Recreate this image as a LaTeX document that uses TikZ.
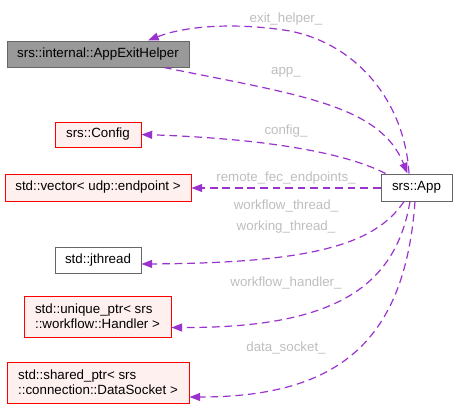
\documentclass[tikz,border=0pt]{standalone}
\usepackage{fontspec}
\setmainfont{Liberation Sans}
\usetikzlibrary{arrows.meta,calc}
\definecolor{edgec}{HTML}{9A32CD}
\definecolor{lblc}{HTML}{BEBEBE}
\definecolor{redfill}{HTML}{FFF0F0}
\definecolor{redline}{HTML}{FF0000}
\definecolor{grayfill}{HTML}{999999}
\definecolor{grayline}{HTML}{666666}
\begin{document}
\begin{tikzpicture}[x=0.75pt,y=-0.75pt,
  box/.style={draw, line width=0.75pt, inner sep=0pt, font=\fontsize{10}{11.25}\selectfont},
  redbox/.style={box, draw=redline, fill=redfill},
  plainbox/.style={box, draw=grayline, fill=white},
  greybox/.style={box, draw=grayline, fill=grayfill},
  conn/.style={draw=edgec, line width=0.9pt, dash pattern=on 5.8pt off 3.6pt, -{Triangle[length=8pt,width=6pt]}},
  lbl/.style={text=lblc, font=\fontsize{10}{11.25}\selectfont, anchor=base, inner sep=0pt}]
\useasboundingbox (0,0) rectangle (457,408);
% nodes
\node[greybox, minimum width=136.5pt, minimum height=19.5pt] (helper) at (98,54) {srs::internal::AppExitHelper};
\node[redbox, minimum width=64.5pt, minimum height=18.75pt] (config) at (98,134.5) {srs::Config};
\node[redbox, minimum width=139.5pt, minimum height=20.25pt] (vector) at (98,187.5) {std::vector< udp::endpoint >};
\node[plainbox, minimum width=64.5pt, minimum height=19.5pt] (jthread) at (98,260) {std::jthread};
\node[redbox, minimum width=110.25pt, minimum height=30.75pt, align=left] (unique) at (97.5,316.5) {std::unique\_ptr< srs\\::workflow::Handler >};
\node[redbox, minimum width=136.5pt, minimum height=30.75pt, align=left] (shared) at (98,382.5) {std::shared\_ptr< srs\\::connection::DataSocket >};
\node[plainbox, minimum width=53.25pt, minimum height=20.25pt] (app) at (416.5,187.5) {srs::App};
% connectors
\draw[conn] ($(app.north)+(-7.5,0)$) .. controls (405,105) and (360,45) .. (290,31)
   .. controls (235,22) and (185,26) .. ($(helper.north)+(50,0)$);
\draw[conn] ($(helper.south)+(66,0)$) .. controls (300,95) and (380,105) .. ($(app.north)+(-9,0)$);
\draw[conn] ($(app.north)+(-31,0)$) .. controls (340,150) and (250,138) .. (config.east);
\draw[conn] ($(app.west)+(0,0.5)$) -- ($(vector.east)+(0,0.5)$);
\draw[conn] ($(app.south)+(-12.5,0)$) .. controls (375,245) and (310,263) .. ($(jthread.east)+(0,4)$);
\draw[conn] ($(app.south)+(-6.5,0)$) .. controls (395,290) and (330,328) .. ($(unique.east)+(0,11)$);
\draw[conn] ($(app.south)+(-1.5,0)$) .. controls (405,340) and (340,397) .. ($(shared.east)+(0,14.5)$);
% labels
\node[lbl] (l1) at (286,22.5) {exit\_helper\_};
\node[lbl] (l2) at (286,74) {app\_};
\node[lbl] (l3) at (286,134.5) {config\_};
\node[lbl] (l4) at (286,181) {remote\_fec\_endpoints\_};
\node[lbl] (l5) at (286,209) {workflow\_thread\_};
\node[lbl] (l6) at (286,230) {working\_thread\_};
\node[lbl] (l7) at (286,286) {workflow\_handler\_};
\node[lbl] (l8) at (286,351) {data\_socket\_};
\end{tikzpicture}
\end{document}
